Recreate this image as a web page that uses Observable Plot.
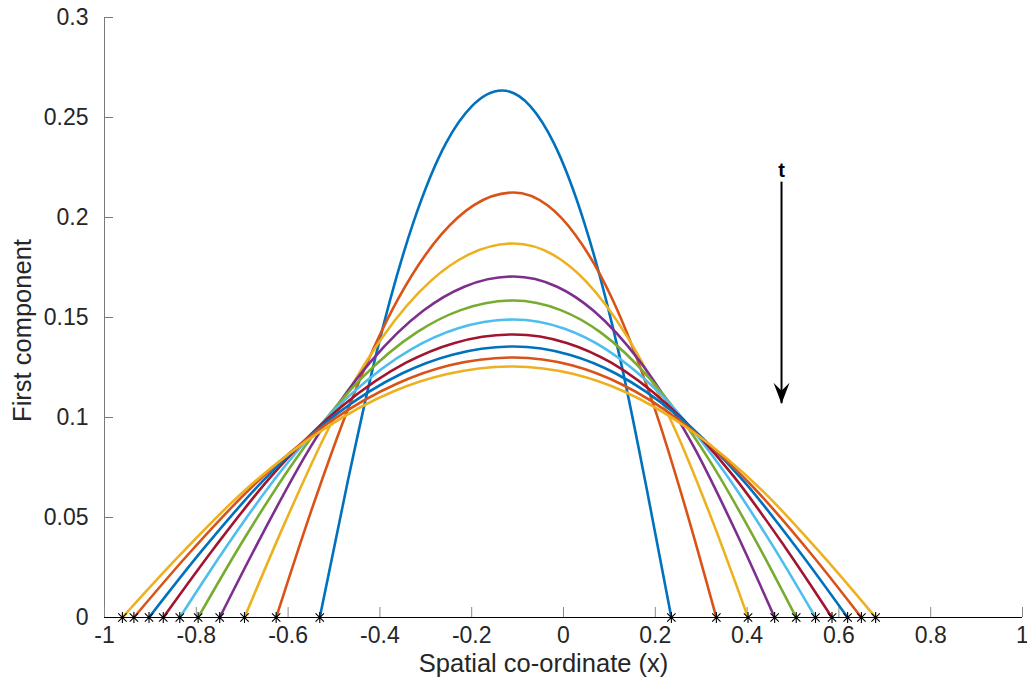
<!DOCTYPE html>
<html><head><meta charset="utf-8">
<script src="https://cdn.jsdelivr.net/npm/d3@7"></script>
<script src="https://cdn.jsdelivr.net/npm/@observablehq/plot@0.6"></script>
<style>html,body{margin:0;padding:0;background:#fff}</style>
</head><body><div id="chart"></div>
<script>
// ---- data ----
const seriesColors = ["#0072BD","#D95319","#EDB120","#7E2F8E","#77AC30","#4DBEEE","#A2142F","#0072BD","#D95319","#EDB120"];
const curveX = [
  [-0.531,-0.472,-0.408,-0.327,-0.256,-0.200,-0.134,-0.072,-0.021,0.045,0.121,0.180,0.235],
  [-0.626,-0.550,-0.466,-0.360,-0.267,-0.196,-0.109,-0.035,0.026,0.106,0.196,0.268,0.333],
  [-0.695,-0.608,-0.514,-0.394,-0.289,-0.207,-0.109,-0.023,0.048,0.139,0.244,0.327,0.402],
  [-0.749,-0.654,-0.551,-0.420,-0.305,-0.216,-0.109,-0.014,0.065,0.167,0.284,0.376,0.460],
  [-0.796,-0.695,-0.583,-0.443,-0.319,-0.224,-0.109,-0.006,0.080,0.190,0.316,0.416,0.507],
  [-0.836,-0.729,-0.611,-0.462,-0.332,-0.231,-0.109,0.001,0.093,0.211,0.345,0.452,0.549],
  [-0.872,-0.759,-0.636,-0.480,-0.343,-0.237,-0.109,0.007,0.104,0.228,0.370,0.482,0.585],
  [-0.903,-0.786,-0.657,-0.495,-0.352,-0.242,-0.109,0.013,0.114,0.245,0.394,0.511,0.619],
  [-0.936,-0.814,-0.680,-0.511,-0.362,-0.248,-0.109,0.018,0.123,0.259,0.414,0.537,0.649],
  [-0.961,-0.835,-0.698,-0.523,-0.371,-0.253,-0.110,0.022,0.132,0.274,0.436,0.563,0.680]
];
const curveY = [
  [0,0.0659,0.1318,0.1976,0.2372,0.2556,0.2635,0.2556,0.2372,0.1976,0.1318,0.0659,0],
  [0,0.0531,0.1063,0.1594,0.1913,0.2061,0.2125,0.2061,0.1913,0.1594,0.1063,0.0531,0],
  [0,0.0468,0.0935,0.1403,0.1683,0.1814,0.1870,0.1814,0.1683,0.1403,0.0935,0.0468,0],
  [0,0.0426,0.0853,0.1279,0.1535,0.1654,0.1705,0.1654,0.1535,0.1279,0.0853,0.0426,0],
  [0,0.0396,0.0793,0.1189,0.1427,0.1537,0.1585,0.1537,0.1427,0.1189,0.0793,0.0396,0],
  [0,0.0373,0.0745,0.1118,0.1341,0.1445,0.1490,0.1445,0.1341,0.1118,0.0745,0.0373,0],
  [0,0.0354,0.0708,0.1061,0.1274,0.1373,0.1415,0.1373,0.1274,0.1061,0.0708,0.0354,0],
  [0,0.0339,0.0678,0.1016,0.1220,0.1314,0.1355,0.1314,0.1220,0.1016,0.0678,0.0339,0],
  [0,0.0325,0.0650,0.0975,0.1170,0.1261,0.1300,0.1261,0.1170,0.0975,0.0650,0.0325,0],
  [0,0.0314,0.0628,0.0941,0.1130,0.1217,0.1255,0.1217,0.1130,0.0941,0.0628,0.0314,0]
];
const xTicks = [-1,-0.8,-0.6,-0.4,-0.2,0,0.2,0.4,0.6,0.8,1];
const xTickLabels = ["-1","-0.8","-0.6","-0.4","-0.2","0","0.2","0.4","0.6","0.8","1"];
const yTicks = [0,0.05,0.1,0.15,0.2,0.25,0.3];
const yTickLabels = ["0","0.05","0.1","0.15","0.2","0.25","0.3"];
const arrowX = 0.475, arrowTop = 0.2177, arrowTip = 0.1069;
const arrowLabel = "t";
const xLabel = "Spatial co-ordinate (x)";
const yLabel = "First component";

// ---- build ----
const W = 1027, H = 688, mL = 104, mR = 5, mT = 17, mB = 71;
const pw = W - mL - mR, ph = H - mT - mB;
const font = "'Liberation Sans', Arial, Helvetica, sans-serif";
const textColor = "#262626";

const curveRows = curveX.map((xs, k) => xs.map((x, j) => ({x, y: curveY[k][j], k})));
const endpoints = curveX.flatMap((xs, k) => [{x: xs[0], y: curveY[k][0]}, {x: xs[xs.length - 1], y: curveY[k][xs.length - 1]}]);

const asterisk = {draw(ctx) {
  const a = 5.5, d = 4.2;
  ctx.moveTo(-a, 0); ctx.lineTo(a, 0);
  ctx.moveTo(0, -a); ctx.lineTo(0, a);
  ctx.moveTo(-d, -d); ctx.lineTo(d, d);
  ctx.moveTo(-d, d); ctx.lineTo(d, -d);
}};
const arrowHead = {draw(ctx) {
  ctx.moveTo(0, 0); ctx.lineTo(-8, -21); ctx.lineTo(0, -13); ctx.lineTo(8, -21); ctx.closePath();
}};

const marks = [
  Plot.ruleX([-1], {stroke: "#7a7a7a", strokeWidth: 1}),
  Plot.tickY(yTicks, {y: d => d, stroke: "#7a7a7a", strokeWidth: 1, insetRight: pw - 9}),
  Plot.tickX(xTicks, {x: d => d, stroke: "#8a8a8a", strokeWidth: 1, insetTop: ph - 10}),
  Plot.ruleY([0], {stroke: "#000", strokeWidth: 1.2}),
  ...curveRows.map((rows, k) => Plot.line(rows, {x: "x", y: "y", stroke: seriesColors[k], strokeWidth: 2.6, curve: "monotone-x"})),
  Plot.dot(endpoints, {x: "x", y: "y", symbol: asterisk, fill: "none", stroke: "#000", strokeWidth: 1.1, r: 5}),
  Plot.ruleX([arrowX], {y1: arrowTop, y2: arrowTip, stroke: "#000", strokeWidth: 2}),
  Plot.dot([arrowX], {x: d => d, y: () => arrowTip, symbol: arrowHead, fill: "#000", stroke: "none", r: 8}),
  Plot.text([arrowLabel], {x: () => arrowX, y: () => arrowTop, text: d => d, dy: -12, fontWeight: "bold", fontSize: 20, fill: "#000"}),
  Plot.text(xTicks, {x: d => d, frameAnchor: "bottom", dy: 25, text: (d, i) => xTickLabels[i], fontSize: 23, fill: textColor}),
  Plot.text(yTicks, {y: d => d, frameAnchor: "left", dx: -16, textAnchor: "end", text: (d, i) => yTickLabels[i], fontSize: 23, fill: textColor}),
  Plot.text([xLabel], {frameAnchor: "bottom", dx: -20, dy: 54, textAnchor: "middle", text: d => d, fontSize: 25.5, fill: textColor}),
  Plot.text([yLabel], {frameAnchor: "left", dx: -82, dy: 13, rotate: -90, textAnchor: "middle", text: d => d, fontSize: 25.5, fill: textColor})
];

const chart = Plot.plot({
  width: W, height: H,
  marginLeft: mL, marginRight: mR, marginTop: mT, marginBottom: mB,
  x: {domain: [-1, 1], axis: null},
  y: {domain: [0, 0.3], axis: null},
  style: {fontFamily: font, background: "#fff", overflow: "visible"},
  marks
});
document.getElementById("chart").appendChild(chart);
</script></body></html>
